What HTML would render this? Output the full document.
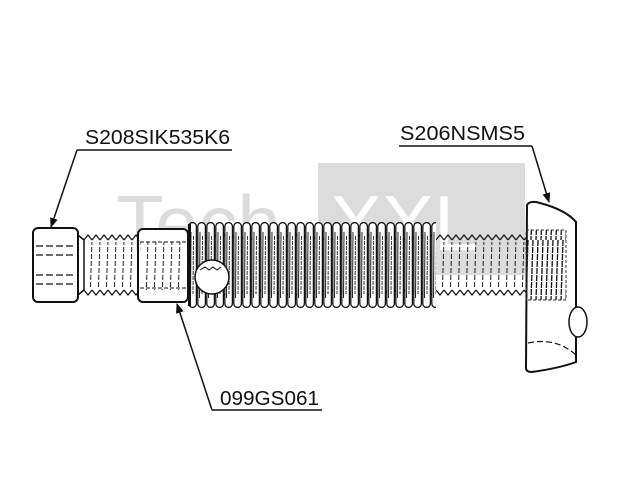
<!DOCTYPE html>
<html><head><meta charset="utf-8"><style>
html,body{margin:0;padding:0;background:#fff;}
svg{display:block}
text{font-family:"Liberation Sans",sans-serif;fill:#111}
</style></head><body>
<svg width="640" height="480" viewBox="0 0 640 480" xmlns="http://www.w3.org/2000/svg">
<defs>
<pattern id="thr" x="0" y="0" width="8" height="60" patternUnits="userSpaceOnUse">
<line x1="4" y1="0" x2="2" y2="60" stroke="#222" stroke-width="1" stroke-dasharray="5,2"/>
</pattern>
<pattern id="thr2" x="0" y="0" width="5" height="60" patternUnits="userSpaceOnUse">
<line x1="3" y1="0" x2="1" y2="60" stroke="#111" stroke-width="1.3" stroke-dasharray="6,1"/>
</pattern>
<pattern id="nut" x="188" y="222" width="9" height="86" patternUnits="userSpaceOnUse">
<rect x="0.8" y="0.6" width="7.6" height="84.8" rx="3.8" fill="#fff" stroke="#111" stroke-width="1.3"/>
<line x1="3" y1="10" x2="2.5" y2="76" stroke="#222" stroke-width="1"/>
<line x1="5.5" y1="14" x2="5" y2="72" stroke="#333" stroke-width="1" stroke-dasharray="4,1"/>
</pattern>
<pattern id="zt" x="84" y="232" width="8" height="10" patternUnits="userSpaceOnUse">
<path d="M0,8 L4,3 L8,8" fill="none" stroke="#111" stroke-width="1.2"/>
</pattern>
<pattern id="zb" x="84" y="288" width="8" height="10" patternUnits="userSpaceOnUse">
<path d="M0,2 L4,7 L8,2" fill="none" stroke="#111" stroke-width="1.2"/>
</pattern>
<marker id="ar" markerWidth="10" markerHeight="10" refX="9" refY="5" orient="auto" markerUnits="userSpaceOnUse">
<path d="M0,1 L10,5 L0,9 Z" fill="#111"/>
</marker>
</defs>
<!-- watermark -->
<rect x="318" y="163" width="207" height="112" fill="#dcdcdc"/>
<text x="116" y="250" font-size="78" style="fill:#dcdcdc">Tech</text>
<text x="330" y="250" font-size="78" style="fill:#fff">XXL</text>

<!-- shank thread -->
<rect x="84" y="232" width="442" height="10" fill="url(#zt)"/>
<rect x="84" y="288" width="442" height="10" fill="url(#zb)"/>
<rect x="86" y="242" width="52" height="46" fill="url(#thr)"/>
<rect x="437" y="242" width="88" height="46" fill="url(#thr)"/>
<path d="M78,235 L84,240 L84,290 L78,295" fill="none" stroke="#111" stroke-width="1.5"/>

<!-- head -->
<rect x="33" y="228" width="45" height="74" rx="5" fill="#fff" stroke="#111" stroke-width="2"/>
<g stroke="#111" stroke-width="1.2" stroke-dasharray="7,3">
<line x1="36" y1="246" x2="76" y2="246"/><line x1="36" y1="255" x2="76" y2="255"/>
<line x1="36" y1="275" x2="76" y2="275"/><line x1="36" y1="284" x2="76" y2="284"/>
</g>

<!-- sleeve -->
<rect x="138" y="229" width="50" height="73" rx="5" fill="#fff" stroke="#111" stroke-width="2"/>
<rect x="140" y="242" width="46" height="48" fill="url(#thr)"/>
<line x1="140" y1="242" x2="186" y2="242" stroke="#111" stroke-dasharray="4,2"/>
<line x1="140" y1="288" x2="186" y2="288" stroke="#111" stroke-dasharray="4,2"/>

<!-- nut -->
<rect x="188" y="222" width="248" height="86" fill="url(#nut)"/>
<rect x="188" y="224" width="3" height="82" fill="#111"/>
<circle cx="212" cy="277" r="17" fill="#fff" stroke="#111" stroke-width="1.5"/>
<path d="M200,270 l5,-3 l4,3 l4,-3 l4,3 l4,-3" fill="none" stroke="#111"/>

<!-- right part -->
<path d="M527,205 Q530,200 540,203 Q566,210 576,222 L576,362 Q560,368 532,372 Q526,372 526,368 Z" fill="#fff" stroke="#111" stroke-width="2"/>
<rect x="526" y="230" width="40" height="70" fill="url(#thr2)"/>
<rect x="526" y="230" width="40" height="70" fill="none" stroke="#333" stroke-dasharray="3,2"/>
<ellipse cx="578" cy="322" rx="9" ry="15" fill="#fff" stroke="#111" stroke-width="1.5"/>
<path d="M528,343 Q556,337 576,355" fill="none" stroke="#111" stroke-width="1.2" stroke-dasharray="6,3"/>

<!-- labels -->
<text x="85" y="144" font-size="20" textLength="145" lengthAdjust="spacingAndGlyphs">S208SIK535K6</text>
<line x1="77" y1="150" x2="232" y2="150" stroke="#111" stroke-width="1.5"/>
<line x1="77" y1="150" x2="51" y2="227" stroke="#111" stroke-width="1.5" marker-end="url(#ar)"/>

<text x="400" y="140" font-size="20" textLength="125" lengthAdjust="spacingAndGlyphs">S206NSMS5</text>
<line x1="399" y1="146" x2="532" y2="146" stroke="#111" stroke-width="1.5"/>
<line x1="532" y1="146" x2="549" y2="202" stroke="#111" stroke-width="1.5" marker-end="url(#ar)"/>

<text x="220" y="405" font-size="20" textLength="99" lengthAdjust="spacingAndGlyphs">099GS061</text>
<line x1="212" y1="410" x2="322" y2="410" stroke="#111" stroke-width="1.5"/>
<line x1="212" y1="410" x2="177" y2="304" stroke="#111" stroke-width="1.5" marker-end="url(#ar)"/>
</svg>
</body></html>
